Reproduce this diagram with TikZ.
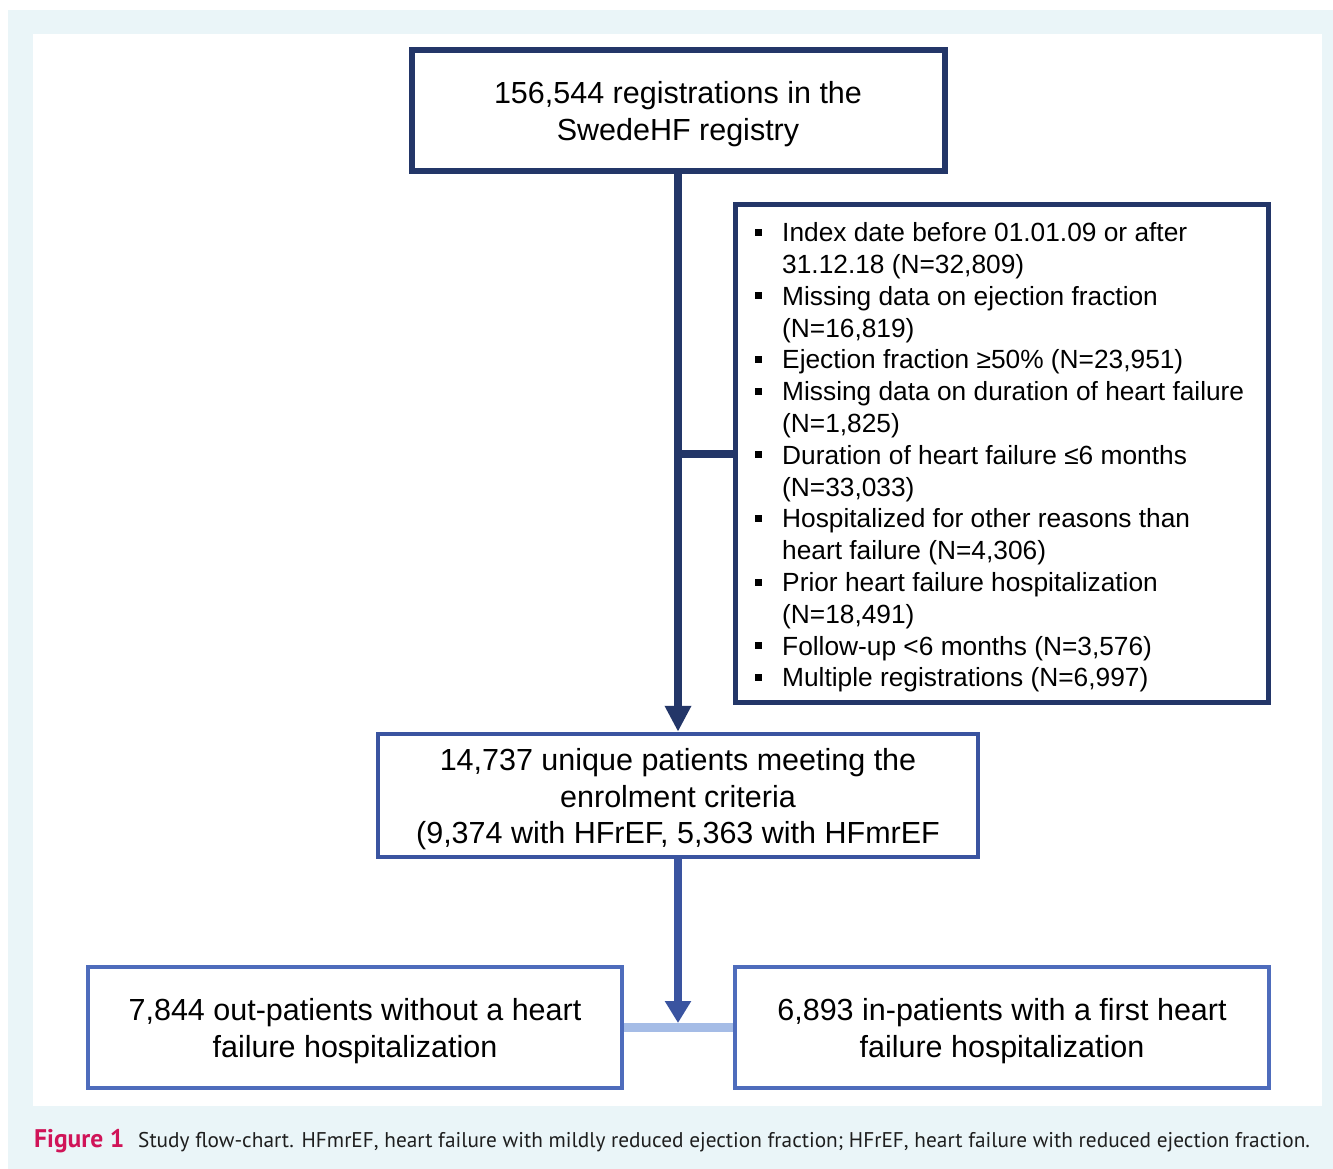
\documentclass[tikz,border=0pt]{standalone}
\usepackage{fontspec}
\setmainfont{Liberation Sans}
\newfontfamily\capfont{PT Sans}
\usetikzlibrary{arrows.meta}
\definecolor{navy}{RGB}{35,54,104}
\definecolor{midblue}{RGB}{58,84,160}
\definecolor{boxblue}{RGB}{78,108,188}
\definecolor{lightline}{RGB}{165,188,230}
\definecolor{bgblue}{RGB}{234,245,248}
\definecolor{figred}{RGB}{208,20,88}
\definecolor{captext}{RGB}{30,30,30}
\newcommand{\bul}{\makebox[27pt][l]{\raisebox{6pt}{\rule{7pt}{7pt}}}}
\newcommand{\hang}{\hspace*{27pt}}
\newcommand{\tp}{\rule{0pt}{29.5pt}}
\begin{document}
\begin{tikzpicture}[x=1pt,y=-1pt,
  bigtext/.style={font=\fontsize{30.5}{36.6}\selectfont, align=center, text=black},
  topbox/.style={draw=navy, line width=6pt, bigtext, inner sep=0pt},
  exclbox/.style={draw=navy, line width=5.5pt, inner sep=0pt},
  midbox/.style={draw=midblue, line width=4.5pt, bigtext, inner sep=0pt},
  lowbox/.style={draw=boxblue, line width=3.5pt, bigtext, inner sep=0pt},
  conn1/.style={draw=navy, line width=8pt, -{Triangle[width=25pt,length=26pt]}},
  branch/.style={draw=navy, line width=8pt},
  conn2/.style={draw=midblue, line width=8.5pt, -{Triangle[width=25pt,length=22pt]}},
  lightconn/.style={draw=lightline, line width=9pt}]
\useasboundingbox (0,0) rectangle (1333,1169);
\fill[bgblue] (8,10) rectangle (1333,1169);
\fill[white] (33,34) rectangle (1322,1106);

\node[topbox, minimum width=533pt, minimum height=121pt] (reg) at (678,110.5)
  {\tp 156,544 registrations in the\\SwedeHF registry};
\node[exclbox, minimum width=533pt, minimum height=498pt] (excl) at (1002,453.5) {};
\node[anchor=west, inner sep=0pt, align=left, text=black,
  font=\fontsize{26.3}{31.8}\selectfont] (excltext) at (755,457.5)
  {\bul Index date before 01.01.09 or after\\
   \hang 31.12.18 (N=32,809)\\
   \bul Missing data on ejection fraction\\
   \hang (N=16,819)\\
   \bul Ejection fraction ≥50\% (N=23,951)\\
   \bul Missing data on duration of heart failure\\
   \hang (N=1,825)\\
   \bul Duration of heart failure ≤6 months\\
   \hang (N=33,033)\\
   \bul Hospitalized for other reasons than\\
   \hang heart failure (N=4,306)\\
   \bul Prior heart failure hospitalization\\
   \hang (N=18,491)\\
   \bul Follow-up <6 months (N=3,576)\\
   \bul Multiple registrations (N=6,997)};
\node[midbox, minimum width=600pt, minimum height=123pt] (mid) at (678,795.5)
  {\tp 14,737 unique patients meeting the\\enrolment criteria\\(9,374 with HFrEF, 5,363 with HFmrEF};
\node[lowbox, minimum width=534pt, minimum height=121pt] (outp) at (355,1027.5)
  {\tp 7,844 out-patients without a heart\\failure hospitalization};
\node[lowbox, minimum width=534pt, minimum height=121pt] (inp) at (1002,1027.5)
  {\tp 6,893 in-patients with a first heart\\failure hospitalization};

\coordinate (br) at (reg.south |- excl.west);
\coordinate (jn) at (678,1023);
\draw[conn1] (reg.south) -- (mid.north);
\draw[branch] (br) -- (excl.west);
\draw[lightconn] (outp.east) -- (inp.west);
\draw[conn2] (mid.south) -- (jn);

\node[anchor=base west, inner sep=0pt, text=captext] (cap) at (34,1147)
  {\capfont\textcolor{figred}{\fontsize{25.5}{28}\selectfont\bfseries Figure 1}\hspace{14pt}\fontsize{21.3}{24}\selectfont Study flow-chart. HFmrEF, heart failure with mildly reduced ejection fraction; HFrEF, heart failure with reduced ejection fraction.};
\end{tikzpicture}
\end{document}
